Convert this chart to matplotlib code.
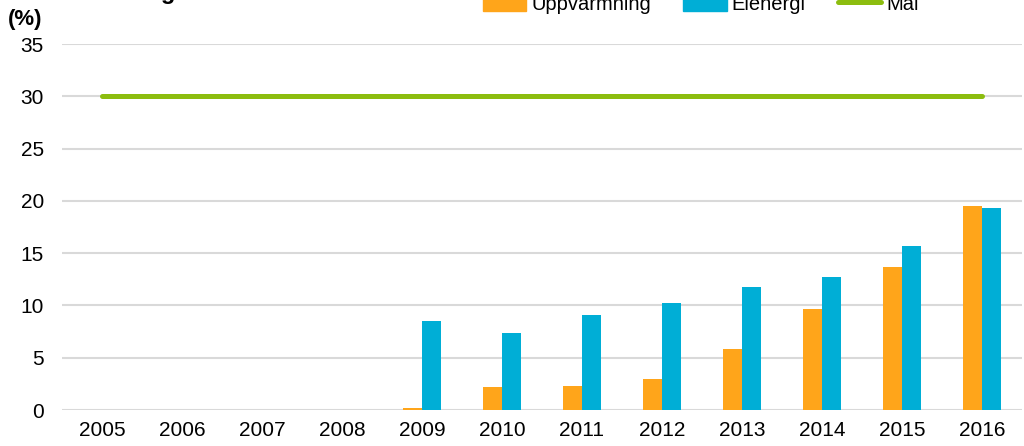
import numpy as np
import matplotlib.pyplot as plt
from matplotlib.patches import Patch
from matplotlib.lines import Line2D

plt.rcParams["font.family"] = ["Liberation Sans", "DejaVu Sans"]

# data
years = ["2005", "2006", "2007", "2008", "2009", "2010",
         "2011", "2012", "2013", "2014", "2015", "2016"]
uppvarmning = [0, 0, 0, 0, 0.2, 2.2, 2.25, 3.0, 5.85, 9.65, 13.7, 19.5]
elenergi = [0, 0, 0, 0, 8.5, 7.35, 9.1, 10.2, 11.8, 12.7, 15.65, 19.35]
mal = [30] * len(years)

orange = "#FFA51A"
blue = "#00AED6"
green = "#8CBD0F"

fig = plt.figure(figsize=(10.24, 4.46), dpi=100)
ax = fig.add_axes([0.0605, 0.0807, 0.9375, 0.8206])

x = np.arange(len(years))
w = 0.24
ax.bar(x - w / 2, uppvarmning, w, color=orange, zorder=3)
ax.bar(x + w / 2, elenergi, w, color=blue, zorder=3)
ax.plot(x, mal, color=green, lw=3.6, solid_capstyle="round", zorder=4)

ax.set_xlim(-0.5, 11.5)
ax.set_ylim(0, 35)
ax.set_yticks(range(0, 36, 5))
ax.set_xticks(x)
ax.set_xticklabels(years)
ax.tick_params(axis="both", length=0, labelsize=15)
ax.tick_params(axis="y", pad=13)
ax.tick_params(axis="x", pad=8)
ax.grid(axis="y", color="#d9d9d9", lw=1.5, zorder=0)
for s in ax.spines.values():
    s.set_visible(False)

fig.text(8 / 1024, 1 - 20 / 446, "(%)", fontsize=16, fontweight="bold",
         va="center", ha="left")
# title, cropped at the top edge
fig.text(176 / 1024, 1 + 1 / 446, "Utveckling", fontsize=17, fontweight="bold",
         va="baseline", ha="right")

handles = [
    Patch(color=orange, label="Uppvarmning"),
    Patch(color=blue, label="Elenergi"),
    Line2D([], [], color=green, lw=3.6, solid_capstyle="round", label="Mål"),
]
fig.legend(handles=handles, loc="center left", bbox_to_anchor=(483 / 1024, 1 - 4 / 446),
           ncol=3, frameon=False, fontsize=14.5, handlelength=2.15, handleheight=0.9,
           handletextpad=0.25, columnspacing=1.6, borderpad=0, borderaxespad=0)

fig.savefig("out.png", dpi=100)
